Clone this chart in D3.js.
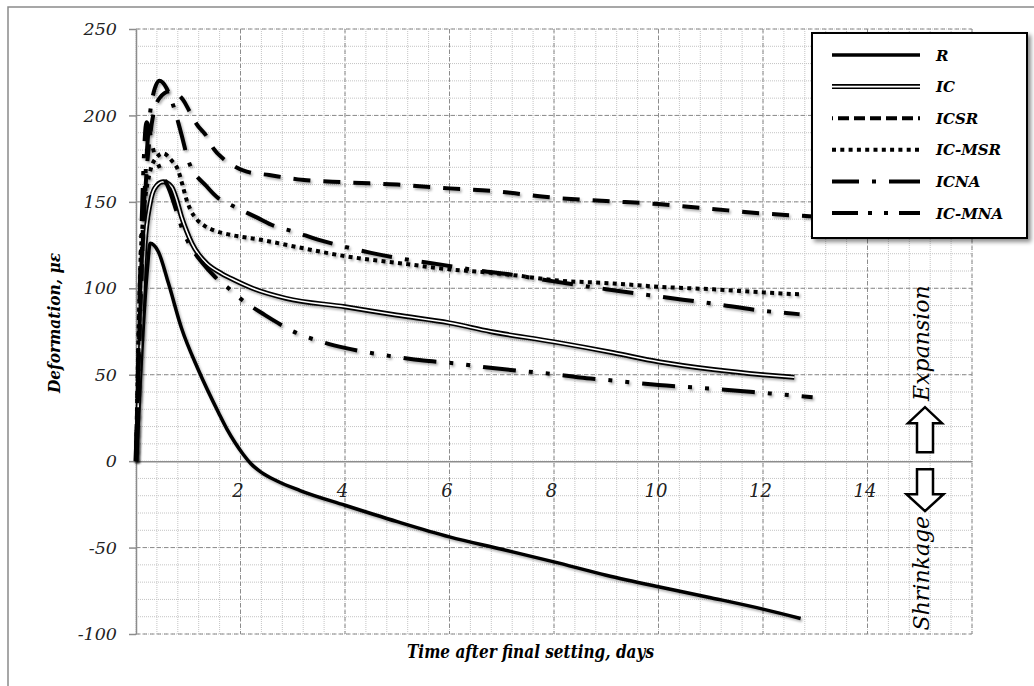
<!DOCTYPE html>
<html lang="en">
<head>
<meta charset="utf-8">
<style>
    body { margin: 0; background: #fff; }
    #mainSVG { display: block; }
    .tick text { font-family: "DejaVu Serif", serif; font-style: italic; fill: #222; }
    .title { font-family: "DejaVu Serif", serif; font-style: italic; font-weight: bold; fill: #000; }
    .note { font-family: "DejaVu Serif", serif; font-style: italic; fill: #000; }
</style>
</head>
<body>
<svg id="mainSVG" width="1034" height="686"></svg>
<script src="https://d3js.org/d3.v7.min.js"></script>
<script>

    // values: [time (days), deformation (microstrain)]
    var seriesNames = ["R", "IC", "ICSR", "IC-MSR", "ICNA", "IC-MNA"];

    var dataR = [[0, 0], [0.22, 112], [0.27, 126], [0.43, 121], [0.62, 103], [0.87, 77], [1.19, 53], [1.58, 28],
        [1.74, 18.5], [1.9, 10.5], [2.05, 4], [2.2, -1.5], [2.4, -6.5], [2.7, -11.5], [3.14, -17], [4, -25.5],
        [5, -35], [6, -43.8], [7, -51], [8, -58.3], [9, -66], [10, -72.7], [11, -79], [12, -85.6], [12.72, -91]];

    var dataIC = [[0, 0], [0.08, 60], [0.17, 124], [0.27, 149], [0.36, 158], [0.52, 161.6], [0.68, 158.7],
        [0.78, 151], [0.87, 141.4], [0.97, 133], [1.07, 126], [1.2, 119.5], [1.35, 114.5], [1.64, 108.5],
        [1.9, 104.5], [2.23, 100], [2.87, 94.2], [4, 89.3], [4.98, 84.5], [6, 80], [6.78, 75], [8, 69],
        [9.14, 62.7], [10, 57.5], [11.05, 53], [12, 50], [12.6, 48.5]];

    var dataICSR = [[0, 0], [0.15, 140], [0.3, 195], [0.45, 210], [0.65, 214], [0.9, 209], [1.03, 202],
        [1.16, 195], [1.35, 188], [1.48, 181], [1.67, 175], [1.86, 171], [2.12, 167.5], [2.55, 165.5],
        [3.1, 163], [4, 161.3], [5, 160], [6, 157.8], [6.78, 156.4], [8, 152.4], [9, 150.5], [10, 148.7],
        [11, 146], [12, 143.3], [13, 141.5]];

    var dataICMSR = [[0, 0], [0.1, 125], [0.25, 165], [0.4, 176], [0.52, 178], [0.68, 174], [0.81, 168],
        [0.89, 159.7], [0.97, 151], [1.05, 145], [1.16, 140], [1.32, 136], [1.51, 133.3], [1.77, 131.2],
        [2.42, 127.9], [3.06, 124], [4, 118.6], [4.98, 114.8], [6.02, 110.9], [6.78, 109], [7.23, 107.6],
        [8, 104.7], [9.14, 102.8], [10, 100.9], [11.05, 99.4], [12, 97.6], [12.7, 96.5]];

    var dataICNA = [[0, 0], [0.1, 110], [0.2, 175], [0.3, 208], [0.45, 220], [0.58, 216], [0.71, 206],
        [0.87, 189], [1.0, 174], [1.35, 159], [1.58, 152], [1.83, 148], [2.31, 141], [2.65, 136], [3.0, 133],
        [3.5, 128], [4.0, 124], [4.5, 120.5], [5.0, 117.6], [5.9, 113.4], [6.5, 110.5], [7.2, 107.8],
        [8.0, 104], [9.0, 99.5], [10.0, 95.3], [11.0, 91.3], [12.0, 87], [12.7, 85]];

    var dataICMNA = [[0, 0], [0.1, 130], [0.2, 196], [0.35, 178], [0.49, 167], [0.65, 156], [0.78, 144],
        [0.9, 133], [1.05, 124], [1.26, 115], [1.51, 106.7], [1.77, 100], [2.0, 94], [2.47, 84.5],
        [2.73, 79.7], [3.0, 75.2], [3.5, 69.5], [4.0, 65.5], [4.5, 62.6], [5.0, 60.2], [5.5, 58.2],
        [6.0, 56.9], [6.78, 54], [7.5, 51.8], [8.0, 50.3], [8.5, 48.4], [9.0, 47], [10.0, 44], [11.0, 42],
        [12.0, 39.5], [12.95, 37]];

    var xTicks = [2, 4, 6, 8, 10, 12, 14];
    var yTicks = [-100, -50, 0, 50, 100, 150, 200, 250];

    var allData = [dataR, dataIC, dataICSR, dataICMSR, dataICNA, dataICMNA];

    // line looks, plot and legend
    var styles = {
        "R":      { width: 3.5, dash: null, legendDash: null },
        "IC":     { width: 5, dash: null, legendDash: null, double: true },
        "ICSR":   { width: 4, dash: "17,13", legendDash: "11,5", legendOffset: 10 },
        "IC-MSR": { width: 4, dash: "4,4.3", legendDash: "4,4.3" },
        "ICNA":   { width: 4, dash: "31,13,4,13", legendDash: "27,13,4,13,31" },
        "IC-MNA": { width: 4, dash: "33,13,4,13,4,13", legendDash: "26,10,4,12,4,11,30" }
    };

    var svg = d3.select("#mainSVG");

    var defs = svg.append("defs");
    defs.append("filter").attr("id", "lineShadow")
        .attr("x", "-10%").attr("y", "-10%").attr("width", "130%").attr("height", "130%")
        .append("feDropShadow")
        .attr("dx", 1.5).attr("dy", 2).attr("stdDeviation", 1.3)
        .attr("flood-color", "#000").attr("flood-opacity", 0.3);
    defs.append("filter").attr("id", "boxShadow")
        .attr("x", "-10%").attr("y", "-10%").attr("width", "130%").attr("height", "130%")
        .append("feDropShadow")
        .attr("dx", 3).attr("dy", 3).attr("stdDeviation", 2)
        .attr("flood-color", "#000").attr("flood-opacity", 0.45);

    var x = d3.scaleLinear().domain([0, 16]).range([136, 972]);
    var y = d3.scaleLinear().domain([-100, 250]).range([634, 29]);

    // chart area border (only top and left are inside the picture)
    svg.append("rect")
        .attr("x", 8).attr("y", 7).attr("width", 1100).attr("height", 800)
        .attr("fill", "none").attr("stroke", "#8a8a8a").attr("stroke-width", 1.5);

    // minor grid
    var grid = svg.append("g");
    grid.selectAll(".vminor")
        .data(d3.range(0, 16.001, 0.4))
        .enter().append("line")
        .attr("x1", function (d) { return x(d); })
        .attr("x2", function (d) { return x(d); })
        .attr("y1", y(250)).attr("y2", y(-100))
        .attr("stroke", "#c4c4c4").attr("stroke-width", 1).attr("stroke-dasharray", "1,1");
    grid.selectAll(".hminor")
        .data(d3.range(-100, 250.1, 10))
        .enter().append("line")
        .attr("x1", x(0)).attr("x2", x(16))
        .attr("y1", function (d) { return y(d); })
        .attr("y2", function (d) { return y(d); })
        .attr("stroke", "#c4c4c4").attr("stroke-width", 1).attr("stroke-dasharray", "1,1");

    // major grid
    grid.selectAll(".vmajor")
        .data(d3.range(2, 16.001, 2))
        .enter().append("line")
        .attr("x1", function (d) { return x(d); })
        .attr("x2", function (d) { return x(d); })
        .attr("y1", y(250)).attr("y2", y(-100))
        .attr("stroke", "#8c8c8c").attr("stroke-width", 1).attr("stroke-dasharray", "4,3");
    grid.selectAll(".hmajor")
        .data(yTicks.filter(function (d) { return d != 0; }))
        .enter().append("line")
        .attr("x1", x(0)).attr("x2", x(16))
        .attr("y1", function (d) { return y(d); })
        .attr("y2", function (d) { return y(d); })
        .attr("stroke", "#8c8c8c").attr("stroke-width", 1).attr("stroke-dasharray", "4,3");

    // axes
    var yAxis = svg.append("g")
        .attr("transform", "translate(" + x(0) + ",0)")
        .call(d3.axisLeft(y).tickValues(yTicks).tickSize(7).tickSizeOuter(0).tickPadding(12)
            .tickFormat(function (d) { return String(d); }));
    yAxis.selectAll("path, line").attr("stroke", "#8c8c8c").attr("stroke-width", 1.5);
    yAxis.selectAll("text").attr("font-size", 17.5);

    var xAxis = svg.append("g")
        .attr("transform", "translate(0," + y(0) + ")")
        .call(d3.axisBottom(x).tickValues(xTicks).tickSize(0).tickSizeOuter(0).tickPadding(23));
    xAxis.selectAll("path").attr("stroke", "#8c8c8c").attr("stroke-width", 1.5);
    xAxis.selectAll("text").attr("font-size", 18).attr("dx", -3);

    // curves
    var line = d3.line()
        .x(function (d) { return x(d[0]); })
        .y(function (d) { return y(d[1]); })
        .curve(d3.curveMonotoneX);

    var curves = svg.append("g").attr("fill", "none");
    seriesNames.forEach(function (name, i) {
        var st = styles[name];
        var p = curves.append("path")
            .attr("d", line(allData[i]))
            .attr("stroke", "#000")
            .attr("stroke-width", st.width)
            .attr("stroke-linejoin", "round")
            .attr("filter", "url(#lineShadow)");
        if (st.dash) p.attr("stroke-dasharray", st.dash);
        if (st.double) {
            curves.append("path")
                .attr("d", line(allData[i]))
                .attr("stroke", "#fff")
                .attr("stroke-width", 1.6);
        }
    });

    // axis titles
    svg.append("text")
        .attr("class", "title")
        .attr("x", 407).attr("y", 658)
        .attr("font-size", 18)
        .attr("textLength", 247).attr("lengthAdjust", "spacingAndGlyphs")
        .text("Time after final setting, days");

    svg.append("text")
        .attr("class", "title")
        .attr("transform", "translate(60,393) rotate(-90)")
        .attr("font-size", 17)
        .attr("textLength", 140).attr("lengthAdjust", "spacingAndGlyphs")
        .text("Deformation, με");

    // expansion / shrinkage marker
    var y0 = y(0), cx = 925;
    var mark = svg.append("g");
    mark.append("line")
        .attr("x1", cx - 33).attr("x2", cx + 40)
        .attr("y1", y0).attr("y2", y0)
        .attr("stroke", "#000").attr("stroke-width", 3.5)
        .attr("filter", "url(#lineShadow)");
    mark.append("path")
        .attr("d", "M" + (cx - 8) + "," + (y0 - 9) + "V" + (y0 - 38) + "H" + (cx - 17) + "L" + cx + "," + (y0 - 54)
            + "L" + (cx + 17) + "," + (y0 - 38) + "H" + (cx + 8) + "V" + (y0 - 9) + "Z")
        .attr("fill", "#fff").attr("stroke", "#000").attr("stroke-width", 2.5);
    mark.append("path")
        .attr("d", "M" + (cx - 8) + "," + (y0 + 8) + "V" + (y0 + 33) + "H" + (cx - 18.5) + "L" + cx + "," + (y0 + 50)
            + "L" + (cx + 18.5) + "," + (y0 + 33) + "H" + (cx + 8) + "V" + (y0 + 8) + "Z")
        .attr("fill", "#fff").attr("stroke", "#000").attr("stroke-width", 2.5);
    mark.append("text")
        .attr("class", "note")
        .attr("transform", "translate(" + (cx + 4) + "," + (y0 - 118) + ") rotate(-90)")
        .attr("text-anchor", "middle")
        .attr("font-size", 22)
        .text("Expansion");
    mark.append("text")
        .attr("class", "note")
        .attr("transform", "translate(" + (cx + 4) + "," + (y0 + 112) + ") rotate(-90)")
        .attr("text-anchor", "middle")
        .attr("font-size", 22)
        .text("Shrinkage");

    // legend
    var legend = svg.append("g");
    legend.append("rect")
        .attr("x", 812).attr("y", 33).attr("width", 215).attr("height", 205)
        .attr("fill", "#fff").attr("stroke", "#000").attr("stroke-width", 2)
        .attr("filter", "url(#boxShadow)");

    var rows = legend.selectAll(".row")
        .data(seriesNames)
        .enter().append("g")
        .attr("transform", function (d, i) { return "translate(0," + (55 + i * 31.6) + ")"; });

    rows.append("line")
        .attr("x1", 832).attr("x2", 920)
        .attr("stroke", "#000")
        .attr("stroke-width", function (d) { return styles[d].width; })
        .attr("stroke-dasharray", function (d) { return styles[d].legendDash; })
        .attr("stroke-dashoffset", function (d) { return styles[d].legendOffset || 0; });
    rows.filter(function (d) { return styles[d].double; })
        .append("line")
        .attr("x1", 832).attr("x2", 920)
        .attr("stroke", "#fff").attr("stroke-width", 1.6);

    rows.append("text")
        .attr("class", "title")
        .attr("x", 936).attr("y", 5.5)
        .attr("font-size", 15)
        .text(function (d) { return d; });

</script>
</body>
</html>
